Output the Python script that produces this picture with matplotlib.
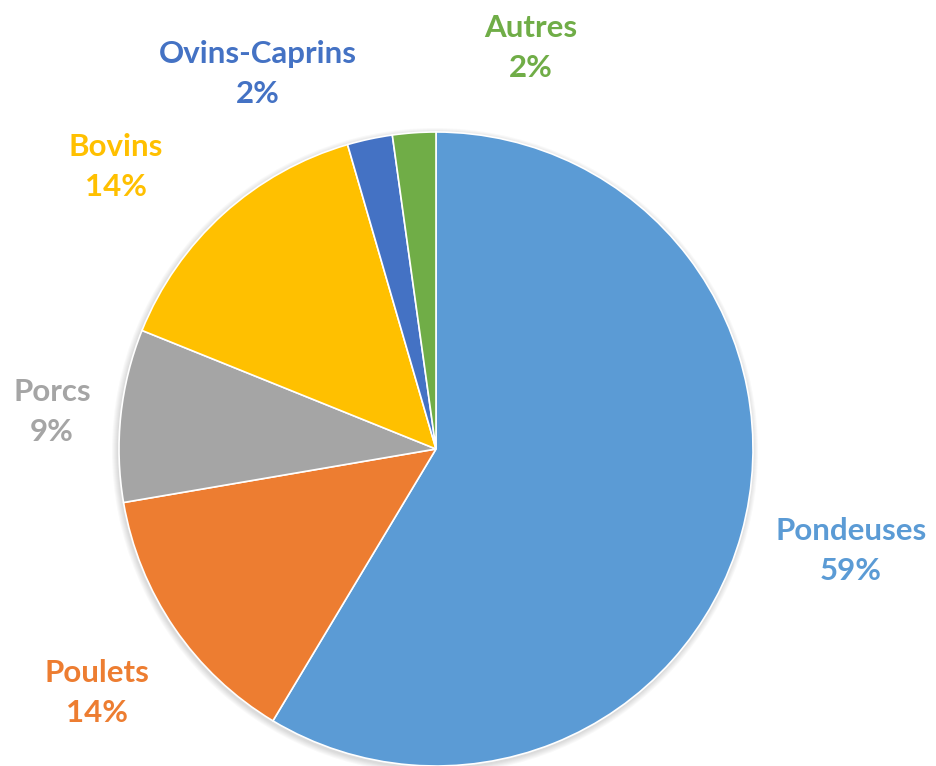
import numpy as np
import matplotlib.pyplot as plt
from matplotlib.patches import Circle

# Data
labels = ['Pondeuses', 'Poulets', 'Porcs', 'Bovins', 'Ovins-Caprins', 'Autres']
values = [58.6, 13.7, 8.8, 14.4, 2.3, 2.2]
colors = ['#5B9BD5', '#ED7D31', '#A5A5A5', '#FFC000', '#4472C4', '#70AD47']

# label centres (pixels, from top-left)
label_pos = [(851, 551), (97, 693), (52, 412), (116, 167), (258, 74), (531, 48)]

W, H = 936, 766
fig = plt.figure(figsize=(W / 100, H / 100), dpi=100, facecolor='w')
ax = fig.add_axes([0, 0, 1, 1])

cx, cy, r = 436, H - 449, 317

# soft shadow under the pie
for k in range(6):
    ax.add_patch(Circle((cx - 1, cy - 2), r + 1 + k, color='k',
                        alpha=0.025, lw=0, zorder=0))

ax.pie(values, colors=colors, startangle=90, counterclock=False,
       center=(cx, cy), radius=r, frame=True,
       wedgeprops=dict(edgecolor='white', linewidth=1.2, zorder=2))
ax.set_xlim(0, W)
ax.set_ylim(0, H)
ax.set_aspect('equal')
ax.axis('off')

for lab, v, c, (x, y) in zip(labels, values, colors, label_pos):
    ax.text(x, H - y, f'{lab}\n{v:.0f}%', color=c, ha='center', va='center',
            fontsize=22.5, fontweight='bold', family='Lato',
            linespacing=1.5)

fig.savefig('out.png', dpi=100, facecolor='w')
